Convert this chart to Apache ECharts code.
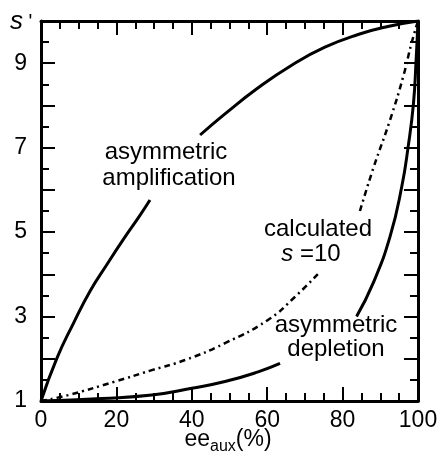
<!DOCTYPE html>
<html>
<head>
<meta charset="utf-8">
<script src="https://cdn.jsdelivr.net/npm/echarts@6/dist/echarts.min.js"></script>
<style>
  html, body { margin: 0; padding: 0; background: #fff; }
  #chart { width: 437px; height: 454px; }
</style>
</head>
<body>
<div id="chart"></div>
<script>
  // values; null = break in the curve (where the labels sit)
  var ampX = [0, 4.2, 8.6, 13, 17.4, 21.8, 26.2, 28.9, 35, 42.2, 48.8, 57.6, 66.6, 75.3, 84.1, 92, 100]
  var ampY = [1, 2.01, 2.84, 3.60, 4.22, 4.82, 5.39, 5.76, null, 7.30, 7.80, 8.42, 8.96, 9.38, 9.68, 9.87, 10]

  var calcX = [0, 7.2, 19.6, 29.4, 38.2, 48.8, 60.2, 67.4, 74, 79, 84.6, 88.1, 92.6, 96.1, 98.3, 100]
  var calcY = [1, 1.14, 1.46, 1.73, 1.97, 2.37, 2.92, 3.47, 4.06, null, 5.50, 6.50, 7.66, 8.69, 9.48, 10]

  var deplX = [0, 16.1, 29.4, 40, 48.8, 57.6, 63.4, 73, 83.7, 88.1, 92.6, 95.7, 97.4, 98.8, 99.5, 100]
  var deplY = [1, 1.06, 1.14, 1.30, 1.46, 1.69, 1.89, null, 3.0, 3.79, 4.90, 6.08, 7.03, 8.05, 9.08, 10]

  var yLabels = ['1', '3', '5', '7', '9']

  function pairs(xs, ys) {
    return xs.map(function (x, i) { return [x, ys[i] === null ? '-' : ys[i]] })
  }

  var font = 'Liberation Sans'
  var myChart = echarts.init(document.getElementById('chart'))

  var frame = { show: true, onZero: false, lineStyle: { color: '#000', width: 3 } }
  var tick = { show: true, inside: true, length: 14, lineStyle: { color: '#000', width: 2 } }

  var xBase = {
    type: 'value', min: 0, max: 100, interval: 20,
    axisLine: frame, axisTick: tick,
    minorTick: { show: true, splitNumber: 4, length: 8, lineStyle: { color: '#000', width: 2 } },
    splitLine: { show: false }
  }
  var yBase = {
    type: 'value', min: 1, max: 10, interval: 1,
    axisLine: frame, axisTick: tick,
    minorTick: { show: true, splitNumber: 2, length: 8, lineStyle: { color: '#000', width: 2 } },
    splitLine: { show: false }
  }

  var txt = function (s, x, y) {
    return {
      type: 'text', x: x, y: y,
      style: {
        text: s, fontSize: 24, fontFamily: font, fill: '#000', align: 'center', verticalAlign: 'middle',
        rich: { s: { fontStyle: 'italic', fontSize: 24, fontFamily: font } }
      }
    }
  }

  var option = {
    animation: false,
    grid: { left: 41, right: 19, top: 21, bottom: 53, outerBoundsMode: 'none', containLabel: false },
    xAxis: [
      Object.assign({}, xBase, {
        position: 'bottom',
        axisLabel: { color: '#000', fontSize: 23, fontFamily: font, margin: 8 },
        nameGap: 26
      }),
      Object.assign({}, xBase, { position: 'top', axisLabel: { show: false } })
    ],
    yAxis: [
      Object.assign({}, yBase, {
        position: 'left',
        axisLabel: {
          color: '#000', fontSize: 23, fontFamily: font, margin: 14,
          formatter: function (v) { return yLabels.indexOf(String(v)) >= 0 ? String(v) : '' }
        }
      }),
      Object.assign({}, yBase, { position: 'right', axisLabel: { show: false } })
    ],
    graphic: [
      { type: 'text', left: 10, top: 9, style: { text: "{s|s} '", rich: { s: { fontStyle: 'italic', fontSize: 26, fontFamily: font } }, fontSize: 20, fontFamily: font, fill: '#000' } },
      {
        // x axis title with subscript
        type: 'text', x: 228, y: 440,
        style: {
          text: 'ee{sub|aux}(%)', fontSize: 23, fontFamily: font, fill: '#000', align: 'center', verticalAlign: 'middle',
          rich: { sub: { fontSize: 16, fontFamily: font, fill: '#000', padding: [14, 0, 0, 0] } }
        }
      },
      txt('asymmetric', 166, 152),
      txt('amplification', 169, 178),
      txt('calculated', 318, 229),
      txt('{s|s} =10', 311, 254),
      txt('asymmetric', 336, 325),
      txt('depletion', 336, 349)
    ],
    series: [
      {
        name: 'amplification', type: 'line', data: pairs(ampX, ampY),
        showSymbol: false, smooth: 0.5, connectNulls: false,
        lineStyle: { color: '#000', width: 3 }
      },
      {
        name: 'calculated', type: 'line', data: pairs(calcX, calcY),
        showSymbol: false, smooth: 0.5, connectNulls: false,
        lineStyle: { color: '#000', width: 2.5, type: [6, 4, 2, 4] }
      },
      {
        name: 'depletion', type: 'line', data: pairs(deplX, deplY),
        showSymbol: false, smooth: 0.5, connectNulls: false,
        lineStyle: { color: '#000', width: 3 }
      }
    ]
  }
  myChart.setOption(option)
</script>
</body>
</html>
